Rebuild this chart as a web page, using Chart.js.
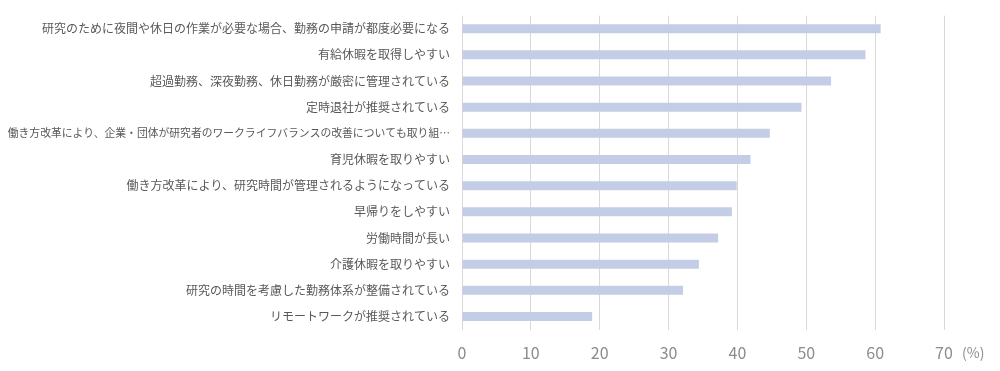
<!DOCTYPE html>
<html lang="ja">
<head>
<meta charset="utf-8">
<script src="https://cdn.jsdelivr.net/npm/chart.js@4/dist/chart.umd.min.js"></script>
<style>
  html, body { margin: 0; padding: 0; background: #fff; }
  #wrap { width: 1000px; height: 371px; position: relative; }
</style>
</head>
<body>
<div id="wrap"><canvas id="chart"></canvas></div>
<script>
// Data
const categories = [
    '研究のために夜間や休日の作業が必要な場合、勤務の申請が都度必要になる',
    '有給休暇を取得しやすい',
    '超過勤務、深夜勤務、休日勤務が厳密に管理されている',
    '定時退社が推奨されている',
    '働き方改革により、企業・団体が研究者のワークライフバランスの改善についても取り組…',
    '育児休暇を取りやすい',
    '働き方改革により、研究時間が管理されるようになっている',
    '早帰りをしやすい',
    '労働時間が長い',
    '介護休暇を取りやすい',
    '研究の時間を考慮した勤務体系が整備されている',
    'リモートワークが推奨されている'
];
const values = [60.8, 58.6, 53.6, 49.3, 44.7, 41.9, 39.9, 39.2, 37.2, 34.4, 32.1, 18.9];
const xTicks = [0, 10, 20, 30, 40, 50, 60, 70];
const unitLabel = '(%)';

const jpFont = '"Noto Sans CJK JP", "Noto Sans", sans-serif';

// unit label next to the last tick
const unitPlugin = {
    id: 'unitLabel',
    afterDraw(chart) {
        const x = chart.scales.x;
        const ctx = chart.ctx;
        ctx.save();
        ctx.font = '14px ' + jpFont;
        ctx.fillStyle = '#8c8c8c';
        ctx.textAlign = 'left';
        ctx.textBaseline = 'middle';
        ctx.fillText(unitLabel, x.getPixelForValue(xTicks[xTicks.length - 1]) + 18, 353);
        ctx.restore();
    }
};

const ctx = document.getElementById('chart').getContext('2d');
new Chart(ctx, {
    type: 'bar',
    data: {
        labels: categories,
        datasets: [{
            data: values,
            backgroundColor: '#c3cde6',
            borderWidth: 0,
            barPercentage: 0.345,
            categoryPercentage: 1.0
        }]
    },
    options: {
        indexAxis: 'y',
        responsive: true,
        maintainAspectRatio: false,
        animation: false,
        layout: { padding: { top: 15.6, right: 56, bottom: 0, left: 0 } },
        plugins: {
            legend: { display: false },
            tooltip: { enabled: false }
        },
        scales: {
            x: {
                min: 0,
                max: 70,
                afterBuildTicks: (scale) => {
                    scale.ticks = xTicks.map(v => ({ value: v }));
                },
                afterFit: (scale) => { scale.height = 41.4; },
                grid: { color: '#d9d9d9', lineWidth: 1, drawTicks: false },
                border: { display: false },
                ticks: {
                    padding: 14,
                    color: '#8c8c8c',
                    font: { family: jpFont, size: 16 }
                }
            },
            y: {
                // fixed label column so the plot starts where the reference does
                afterFit: (scale) => {
                    scale.width = 462;
                    scale.paddingTop = 0;
                    scale.paddingBottom = 0;
                },
                grid: { display: false, drawTicks: false },
                border: { display: false },
                ticks: {
                    padding: 12,
                    color: '#595959',
                    autoSkip: false,
                    font: (c) => ({
                        family: jpFont,
                        size: (c.tick && c.tick.label && c.tick.label.length > 40) ? 10.8 : 12
                    })
                }
            }
        }
    },
    plugins: [unitPlugin]
});
</script>
</body>
</html>
